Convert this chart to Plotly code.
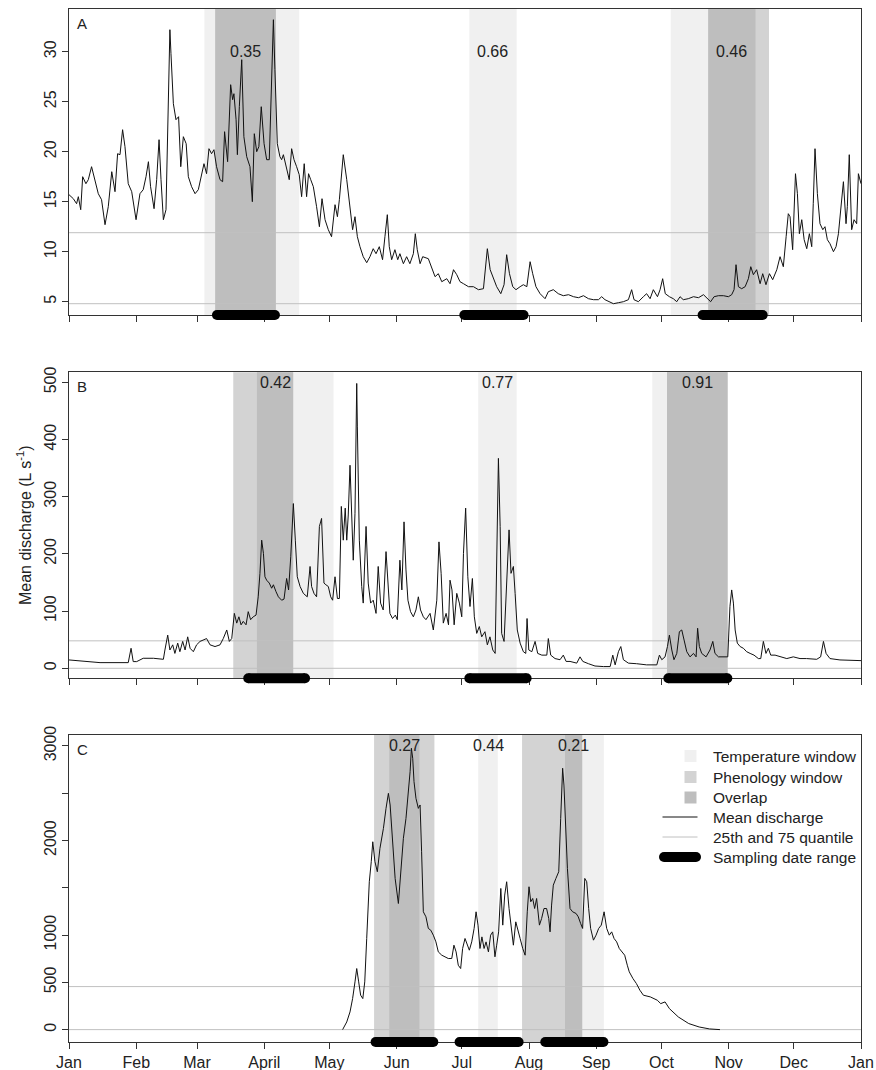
import plotly.graph_objects as go

# ---------------- data ----------------
month_labels = ["Jan", "Feb", "Mar", "April", "May", "Jun", "Jul", "Aug", "Sep", "Oct", "Nov", "Dec", "Jan"]
month_start_days = [0, 31, 59, 90, 120, 151, 181, 212, 243, 273, 304, 334, 365]

# Panel A: day of year, mean discharge (L s-1)
a_day = [0, 2.0, 3.5, 4.3, 5.4, 6.3, 7.8, 8.9, 10.4, 12.0, 13.5, 15.0, 16.6, 18.1, 19.7, 21.2, 22.4, 23.5, 24.7, 25.8,
         27.3, 28.9, 30.9, 32.7, 34.2, 35.5, 36.6, 37.6, 39.2, 40.4, 41.5, 42.4, 43.5, 44.7, 45.8, 46.5, 47.0, 48.1, 49.3,
         50.5, 51.5, 52.7, 54.0, 55.0, 56.5, 58.1, 59.6, 61.1, 62.2, 63.4, 64.5, 65.7, 66.8, 68.0, 69.6, 70.8, 71.7, 73.1,
         74.5, 75.4, 76.0, 77.0, 77.6, 78.5, 79.6, 80.6, 81.9, 83.4, 84.5, 85.4, 86.5, 87.5, 88.6, 89.9, 91.1, 92.3, 93.4,
         94.2, 94.9, 96.0, 97.2, 98.0, 98.8, 100.3, 101.5, 102.6, 103.7, 104.9, 106.1, 107.2, 108.4, 109.5, 110.4, 111.4,
         112.6, 114.1, 115.4, 116.6, 118.0, 119.5, 121.0, 122.6, 123.7, 124.6, 125.6, 126.4, 128.0, 129.5, 130.7, 131.8,
         132.9, 134.1, 135.6, 137.2, 138.7, 140.2, 141.5, 143.0, 144.5, 145.6, 146.7, 147.6, 148.7, 150.2, 151.5, 152.5,
         154.1, 155.6, 157.1, 158.7, 159.6, 160.5, 161.8, 163.0, 165.6, 168.7, 170.2, 171.8, 174.1, 175.6, 177.2, 178.7,
         180.2, 181.8, 184.1, 186.4, 188.7, 191.0, 192.8, 194.1, 195.6, 197.1, 199.0, 200.5, 201.7, 203.0, 204.5, 206.0,
         207.9, 209.4, 211.0, 212.5, 213.7, 215.2, 217.1, 219.4, 220.9, 223.2, 225.5, 227.8, 230.2, 232.5, 234.8, 237.1,
         239.4, 241.7, 244.0, 245.5, 247.0, 249.4, 250.9, 253.2, 255.5, 257.8, 259.3, 260.4, 262.4, 264.7, 266.2, 267.8,
         269.3, 271.2, 272.4, 273.6, 274.8, 276.7, 278.5, 280.1, 281.6, 283.1, 285.4, 287.8, 290.1, 292.4, 294.2, 295.7,
         297.3, 299.3, 301.6, 303.9, 305.4, 306.5, 307.4, 308.5, 310.0, 311.6, 313.1, 314.2, 315.4, 316.9, 318.5, 319.7,
         321.2, 322.8, 324.3, 326.2, 327.7, 329.2, 330.5, 331.5, 332.3, 333.5, 334.8, 335.7, 336.6, 337.7, 338.8, 340.0,
         341.2, 342.3, 343.0, 343.8, 344.9, 346.1, 347.4, 348.4, 349.5, 350.7, 352.3, 353.5, 354.6, 355.6, 356.9, 358.1,
         358.7, 359.6, 360.7, 361.8, 363.0, 363.8, 365.0]
a_q = [15.7, 15.3, 14.8, 15.5, 14.2, 17.5, 16.8, 17.2, 18.5, 17.2, 15.8, 15.2, 12.7, 14.5, 18.0, 16.0, 19.8, 19.7, 22.2, 20.5,
       16.8, 16.0, 13.2, 15.8, 16.2, 17.5, 19.0, 16.5, 14.3, 17.2, 21.2, 17.2, 13.2, 14.2, 23.8, 32.2, 29.8, 24.8, 23.2,
       23.5, 18.5, 21.5, 20.8, 17.5, 16.5, 15.8, 16.2, 17.8, 18.8, 17.8, 20.3, 19.8, 20.2, 18.5, 17.2, 17.0, 22.0, 19.0,
       26.7, 25.2, 25.8, 23.2, 19.7, 24.5, 29.2, 21.5, 19.5, 18.5, 15.0, 21.8, 20.0, 20.5, 24.5, 20.8, 19.2, 19.2, 26.5,
       33.2, 28.2, 20.8, 19.5, 19.2, 19.7, 18.2, 17.2, 20.3, 19.2, 18.5, 17.7, 15.5, 18.8, 15.5, 17.8, 17.2,
       16.5, 14.5, 12.5, 15.3, 13.2, 12.2, 11.5, 14.7, 13.5, 15.2, 17.8, 19.7, 17.2, 14.5, 12.2, 13.5,
       11.5, 10.5, 9.5, 8.9, 9.5, 10.3, 9.8, 10.5, 9.2, 11.5, 13.7, 10.5, 9.2, 10.2, 9.2, 9.8,
       8.8, 9.5, 8.8, 9.8, 11.8, 10.2, 8.8, 9.5, 9.3, 7.5, 7.8, 7.0, 7.3, 6.8, 8.2, 7.7,
       7.0, 6.8, 6.5, 6.5, 6.2, 6.3, 10.3, 8.2, 7.3, 6.5, 5.8, 6.7, 9.7, 7.8, 6.5, 6.2,
       6.5, 6.7, 6.5, 9.0, 7.8, 6.5, 5.8, 5.3, 6.0, 6.2, 5.8, 5.6, 5.7, 5.5, 5.4, 5.6,
       5.3, 5.2, 5.2, 5.5, 5.2, 5.0, 4.8, 4.9, 5.0, 5.2, 6.2, 5.2, 5.0, 5.5, 5.8, 5.3,
       6.2, 5.5, 6.2, 7.3, 5.8, 5.5, 5.3, 5.0, 5.5, 5.2, 5.3, 5.5, 5.4, 5.7, 5.3, 5.0,
       5.5, 5.6, 5.6, 5.5, 5.7, 6.2, 8.7, 6.5, 6.3, 6.5, 7.3, 8.5, 7.7, 8.2, 6.8, 7.8,
       6.7, 7.8, 7.2, 8.2, 9.5, 8.5, 11.5, 13.8, 13.5, 10.2, 17.8, 15.8, 11.8, 13.2, 11.2, 10.3,
       11.8, 10.5, 14.8, 20.3, 15.8, 12.8, 12.2, 12.5, 11.2, 10.8, 10.0, 10.5, 11.8, 14.2, 17.0, 12.8,
       14.5, 19.7, 12.2, 13.2, 12.8, 17.8, 16.8]

# Panel B
b_day = [0, 3.5, 8.1, 11.2, 14.3, 18.9, 23.5, 27.3, 28.6, 29.6, 31.2, 34.2, 38.9, 43.5, 44.2, 45.5, 46.5, 47.8, 48.8,
         50.1, 51.1, 52.4, 53.5, 54.7, 55.8, 57.3, 58.8, 60.4, 62.2, 63.4, 65.0, 67.3, 69.6, 71.1, 72.7, 73.9, 75.0,
         76.2, 77.3, 78.3, 79.3, 80.3, 81.6, 82.6, 83.7, 84.9, 86.2, 87.2, 88.0, 88.8, 89.6, 90.3, 91.1, 92.3, 93.4,
         94.2, 95.4, 96.5, 98.0, 99.1, 100.3, 101.2, 102.2, 103.4, 104.3, 105.2, 106.5, 108.0, 109.8, 111.1, 111.8,
         112.9, 114.1, 115.4, 116.4, 117.5, 118.4, 119.5, 120.6, 121.5, 122.6, 123.7, 124.6, 125.5, 126.4, 127.3,
         128.0, 128.7, 129.5, 130.3, 131.0, 131.8, 132.6, 132.9, 133.8, 134.9, 135.6, 136.9, 137.9, 139.0, 140.2,
         141.5, 142.5, 143.6, 144.8, 146.1, 147.0, 147.9, 149.1, 150.4, 151.3, 152.5, 153.4, 154.4, 155.3, 156.2,
         157.4, 158.7, 159.9, 161.0, 162.0, 163.3, 164.5, 166.4, 167.9, 169.5, 170.5, 171.5, 172.5, 173.8, 174.9,
         175.6, 176.5, 177.5, 178.7, 179.9, 181.0, 181.8, 182.8, 183.8, 184.8, 185.9, 186.8, 187.9, 189.1, 190.2,
         191.7, 192.8, 194.0, 195.3, 196.4, 197.1, 197.9, 198.7, 199.4, 200.5, 201.7, 202.8, 203.7, 204.8, 205.6,
         206.6, 207.9, 209.4, 210.5, 211.1, 211.9, 213.3, 214.8, 216.0, 217.9, 220.2, 220.9, 222.0, 224.0, 226.3,
         227.8, 229.1, 230.9, 234.0, 235.5, 236.8, 239.4, 242.4, 246.3, 249.4, 250.6, 251.7, 253.2, 254.3, 255.5,
         257.8, 261.6, 266.2, 270.9, 272.1, 273.2, 274.7, 275.8, 276.7, 277.8, 278.8, 280.1, 281.3, 282.4, 283.5,
         284.7, 286.2, 287.8, 289.0, 289.7, 290.5, 291.6, 293.6, 295.4, 296.7, 297.7, 299.3, 301.6, 303.6, 304.6,
         305.4, 306.2, 307.0, 308.0, 309.3, 310.8, 312.3, 313.9, 315.7, 317.7, 318.8, 320.0, 321.2, 322.3, 323.4,
         325.4, 327.7, 330.8, 333.8, 336.9, 339.9, 344.6, 346.4, 347.7, 348.9, 350.7, 355.3, 359.9, 365.0]
b_q = [14.6, 13.4, 11.7, 9.9, 9.9, 9.9, 9.9, 9.9, 35, 11.7, 11.7, 17.5, 17.5, 15.7, 32, 58, 32, 41, 26,
       44, 29, 47, 32, 55, 35, 29, 41, 47, 50, 52, 41, 38, 41, 52, 67, 47, 52,
       96, 79, 90, 76, 82, 76, 99, 85, 90, 93, 125, 166, 224, 201, 160, 154, 149, 140,
       146, 134, 125, 119, 121, 157, 137, 195, 288, 224, 160, 143, 131, 125, 178, 143,
       131, 125, 248, 262, 149, 146, 143, 125, 119, 160, 122, 122, 283, 224, 280,
       224, 268, 355, 283, 189, 271, 498, 422, 224, 143, 114, 248, 149, 114, 119,
       96, 178, 114, 102, 204, 143, 96, 87, 93, 85, 189, 137, 256, 172, 119,
       99, 90, 102, 125, 102, 90, 85, 96, 67, 119, 221, 166, 79, 96, 76,
       154, 137, 76, 131, 114, 90, 201, 280, 160, 108, 157, 90, 61, 73, 55,
       64, 41, 55, 32, 26, 195, 367, 248, 61, 47, 154, 242, 166, 178, 131,
       67, 44, 29, 26, 87, 32, 29, 47, 26, 23, 23, 52, 23, 17, 15,
       23, 12, 12, 9, 20, 12, 8, 4, 3, 3, 23, 6, 29, 38, 15,
       9, 8, 6, 6, 23, 15, 20, 38, 58, 32, 15, 26, 64, 67, 47,
       29, 20, 26, 20, 70, 38, 26, 20, 32, 47, 26, 20, 20, 20, 108,
       137, 114, 67, 44, 38, 35, 29, 26, 23, 17, 17, 47, 26, 35, 23,
       23, 20, 17, 20, 17, 17, 15.7, 20, 47, 26, 17, 14.6, 14.6, 13.4]

# Panel C (no data before early May)
c_day = [126.1, 128.0, 129.5, 130.7, 131.8, 132.6, 133.5, 134.4, 135.4, 136.3, 137.2, 138.4, 139.3, 140.0, 141.0,
         142.1, 143.3, 144.9, 146.1, 147.2, 148.0, 149.2, 150.3, 151.8, 152.9, 154.1, 155.3, 156.4, 157.2, 157.8,
         158.4, 159.0, 159.9, 161.0, 161.8, 162.5, 163.3, 164.5, 165.6, 166.7, 167.9, 169.1, 170.2, 171.8, 173.3,
         174.8, 176.4, 177.4, 178.4, 179.4, 180.5, 181.4, 182.5, 183.6, 184.5, 185.6, 186.7, 187.6, 188.5, 189.4,
         190.3, 191.3, 192.2, 193.3, 194.3, 195.3, 196.3, 197.1, 198.0, 199.0, 199.9, 200.8, 201.7, 202.8, 203.9,
         204.8, 205.9, 206.8, 207.9, 209.1, 210.2, 211.2, 212.0, 212.8, 213.7, 214.6, 215.5, 216.8, 217.8, 218.9,
         220.1, 221.1, 221.7, 222.4, 223.2, 224.4, 225.7, 226.6, 227.5, 228.1, 228.7, 229.7, 230.9, 232.1, 233.7,
         234.7, 235.8, 236.7, 237.7, 238.6, 239.5, 240.4, 241.7, 242.9, 244.1, 245.3, 246.6, 247.8, 249.0, 250.1,
         251.2, 252.4, 253.6, 254.8, 256.1, 257.3, 258.2, 259.9, 261.5, 263.1, 264.7, 267.9, 271.1, 272.7, 274.7,
         276.7, 280.8, 285.6, 290.4, 295.2, 300.0]
c_q = [0, 81, 187, 328, 505, 646, 505, 364, 328, 505, 964, 1564, 1776, 1987, 1776,
       1670, 1917, 2128, 2340, 2499, 2376, 1952, 1599, 1334, 1634, 2023, 2234, 2481, 2729, 2976,
       2870, 2623, 2446, 2340, 2376, 1881, 1246, 1193, 1070, 1052, 999, 928, 822, 787, 770,
       752, 752, 893, 822, 681, 646, 858, 964, 893, 840, 928, 1070, 1246, 1105, 858,
       981, 858, 928, 822, 999, 1034, 770, 893, 1034, 1493, 1105, 1423, 1564, 1281, 1070,
       893, 1140, 1070, 964, 858, 787, 1246, 1511, 1352, 1387, 1281, 1387, 1105, 1175, 1281,
       1281, 1175, 1034, 1317, 1528, 1599, 1670, 2234, 2764, 2587, 2234, 1705, 1281, 1246, 1228,
       1193, 1122, 1070, 1599, 1564, 1281, 1070, 946, 999, 1070, 1105, 1246, 1070, 999, 1034,
       964, 928, 858, 822, 787, 681, 611, 540, 487, 417, 364, 346, 311, 275, 293,
       222, 134, 64, 28, 7, 0]

# 25th / 75th quantiles per panel
q25 = [4.8, 0, 0]
q75 = [11.9, 48, 455]

# windows: (temperature window, phenology window) in day of year, None if absent
a_windows = [((62.4, 106.1), (67.4, 95.3)), ((184.5, 206.3), None), ((277.3, 316.4), (294.6, 322.6))]
b_windows = [((86.6, 121.9), (75.7, 103.3)), ((188.6, 206.3), None), ((268.8, 303.5), (275.6, 303.5))]
c_windows = [((147.6, 161.5), (140.6, 168.4)), ((188.6, 197.6), None), ((228.6, 246.5), (208.8, 236.5))]

a_window_labels = ["0.35", "0.66", "0.46"]
b_window_labels = ["0.42", "0.77", "0.91"]
c_window_labels = ["0.27", "0.44", "0.21"]

# sampling date ranges (day of year)
a_sampling = [(68.2, 94.9), (182.2, 209.5), (292.0, 319.7)]
b_sampling = [(82.6, 108.8), (184.5, 210.9), (276.2, 303.4)]
c_sampling = [(141.3, 167.9), (180.0, 207.2), (219.5, 246.3)]

panel_letters = ["A", "B", "C"]
y_ranges = [[3.67, 34.27], [-17.5, 517.5], [-131, 3116]]
y_tickvals = [[5, 10, 15, 20, 25, 30], [0, 100, 200, 300, 400, 500], [0, 500, 1000, 2000, 3000]]
y_minor_tickvals = [[], [], [1500, 2500]]
label_y = [30, 500, 3000]

# ---------------- styling / layout ----------------
W, H = 876, 1070
PL, PR, PT, PB = 69, 861, 9, 1042          # plot area in pixels
panel_px = [(9, 315), (372.3, 678.3), (735, 1042)]  # (top, bottom) pixel rows of each panel

TEMP_C = "#f0f0f0"
PHEN_C = "#d3d3d3"
OVER_C = "#bebebe"
QUANT_C = "#c0c0c0"
TXT_C = "#222222"
FONT = "Liberation Sans, Arial, sans-serif"


def px2xp(px):
    return (px - PL) / (PR - PL)


def px2yp(py):
    return (PB - py) / (PB - PT)


fig = go.Figure()
shapes = []
annotations = []

panels = [
    (a_day, a_q, a_windows, a_window_labels, a_sampling),
    (b_day, b_q, b_windows, b_window_labels, b_sampling),
    (c_day, c_q, c_windows, c_window_labels, c_sampling),
]

layout_axes = {}
for i, (days, q, windows, wlabels, sampling) in enumerate(panels):
    n = "" if i == 0 else str(i + 1)
    xa, ya = "x" + n, "y" + n
    top, bot = panel_px[i]
    layout_axes["xaxis" + n] = dict(
        domain=[0, 1], range=[0, 365], anchor=ya, automargin=False,
        tickmode="array", tickvals=month_start_days, ticktext=month_labels,
        showticklabels=(i == 2), ticks="outside", ticklen=6, tickcolor="#333",
        showline=True, mirror=True, linecolor="#333", linewidth=1,
        showgrid=False, zeroline=False,
        tickfont=dict(family=FONT, size=16, color=TXT_C),
    )
    ydict = dict(
        domain=[max(0, px2yp(bot)), min(1, px2yp(top))], range=y_ranges[i], anchor=xa, automargin=False,
        tickmode="array", tickvals=y_tickvals[i],
        ticks="outside", ticklen=6, tickcolor="#333", tickangle=-90,
        showline=True, mirror=True, linecolor="#333", linewidth=1,
        showgrid=False, zeroline=False,
        tickfont=dict(family=FONT, size=16, color=TXT_C),
    )
    if y_minor_tickvals[i]:
        ydict["minor"] = dict(tickmode="array", tickvals=y_minor_tickvals[i], ticks="outside",
                              ticklen=6, tickcolor="#333", showgrid=False)
    layout_axes["yaxis" + n] = ydict

    # windows
    for (temp, phen), lab in zip(windows, wlabels):
        shapes.append(dict(type="rect", xref=xa, yref=ya + " domain", x0=temp[0], x1=temp[1], y0=0, y1=1,
                           fillcolor=TEMP_C, line=dict(width=0), layer="below"))
        mid = (temp[0] + temp[1]) / 2
        if phen is not None:
            shapes.append(dict(type="rect", xref=xa, yref=ya + " domain", x0=phen[0], x1=phen[1], y0=0, y1=1,
                               fillcolor=PHEN_C, line=dict(width=0), layer="below"))
            o0, o1 = max(temp[0], phen[0]), min(temp[1], phen[1])
            if o1 > o0:
                shapes.append(dict(type="rect", xref=xa, yref=ya + " domain", x0=o0, x1=o1, y0=0, y1=1,
                                   fillcolor=OVER_C, line=dict(width=0), layer="below"))
                mid = (o0 + o1) / 2
        annotations.append(dict(x=mid, y=label_y[i], xref=xa, yref=ya, text=lab, showarrow=False,
                                font=dict(family=FONT, size=16, color=TXT_C), xanchor="center", yanchor="middle"))

    # quantile lines
    for qv in (q25[i], q75[i]):
        fig.add_trace(go.Scatter(x=[0, 365], y=[qv, qv], xaxis=xa, yaxis=ya, mode="lines",
                                 line=dict(color=QUANT_C, width=1), showlegend=False, hoverinfo="skip"))
    # discharge
    fig.add_trace(go.Scatter(x=days, y=q, xaxis=xa, yaxis=ya, mode="lines",
                             line=dict(color="#111111", width=1), showlegend=False))

    # sampling date ranges: thick bar with round ends on the bottom axis
    for s0, s1 in sampling:
        shapes.append(dict(type="rect", xref=xa, x0=s0, x1=s1, yref=ya + " domain", ysizemode="pixel",
                           yanchor=0, y0=-5, y1=5, fillcolor="black", line=dict(width=0), layer="above"))
        for sx in (s0, s1):
            shapes.append(dict(type="circle", xref=xa, xsizemode="pixel", xanchor=sx, x0=-5, x1=5,
                               yref=ya + " domain", ysizemode="pixel", yanchor=0, y0=-5, y1=5,
                               fillcolor="black", line=dict(width=0), layer="above"))

    # panel letter
    annotations.append(dict(x=0, y=1, xref=xa + " domain", yref=ya + " domain", text=panel_letters[i],
                            showarrow=False, xanchor="left", yanchor="top", xshift=6, yshift=-4,
                            font=dict(family=FONT, size=15, color=TXT_C)))

# y-axis title
annotations.append(dict(x=px2xp(24), y=px2yp(525), xref="paper", yref="paper",
                        text="Mean discharge (L s<sup>-1</sup>)", textangle=-90, showarrow=False,
                        font=dict(family=FONT, size=16, color=TXT_C), xanchor="center", yanchor="middle"))

# legend (drawn manually inside panel C)
leg_rows = [756, 777, 797.5, 817, 837, 857]
leg_text = ["Temperature window", "Phenology window", "Overlap", "Mean discharge",
            "25th and 75 quantile", "Sampling date range"]
for py, col in zip(leg_rows[:3], [TEMP_C, PHEN_C, OVER_C]):
    shapes.append(dict(type="rect", xref="paper", yref="paper", x0=px2xp(684.5), x1=px2xp(696.5),
                       y0=px2yp(py + 6), y1=px2yp(py - 6), fillcolor=col, line=dict(width=0)))
shapes.append(dict(type="line", xref="paper", yref="paper", x0=px2xp(662.5), x1=px2xp(697.5),
                   y0=px2yp(leg_rows[3]), y1=px2yp(leg_rows[3]), line=dict(color="#111111", width=1)))
shapes.append(dict(type="line", xref="paper", yref="paper", x0=px2xp(662.5), x1=px2xp(697.5),
                   y0=px2yp(leg_rows[4]), y1=px2yp(leg_rows[4]), line=dict(color=QUANT_C, width=1)))
shapes.append(dict(type="rect", xref="paper", yref="paper", x0=px2xp(664), x1=px2xp(696),
                   y0=px2yp(leg_rows[5] + 5), y1=px2yp(leg_rows[5] - 5), fillcolor="black", line=dict(width=0)))
for cx in (664, 696):
    shapes.append(dict(type="circle", xref="paper", yref="paper", x0=px2xp(cx - 5), x1=px2xp(cx + 5),
                       y0=px2yp(leg_rows[5] + 5), y1=px2yp(leg_rows[5] - 5), fillcolor="black",
                       line=dict(width=0)))
for py, t in zip(leg_rows, leg_text):
    annotations.append(dict(x=px2xp(711), y=px2yp(py), xref="paper", yref="paper", text=t, showarrow=False,
                            xanchor="left", yanchor="middle", font=dict(family=FONT, size=15.5, color=TXT_C)))

fig.update_layout(
    width=W, height=H,
    margin=dict(l=PL, r=W - PR, t=PT, b=H - PB, autoexpand=False),
    paper_bgcolor="white", plot_bgcolor="white",
    showlegend=False,
    shapes=shapes, annotations=annotations,
    font=dict(family=FONT, color=TXT_C),
    **layout_axes,
)

fig.write_html("out.html", config={"displayModeBar": False},
               post_script="document.body.style.margin='0px';")
